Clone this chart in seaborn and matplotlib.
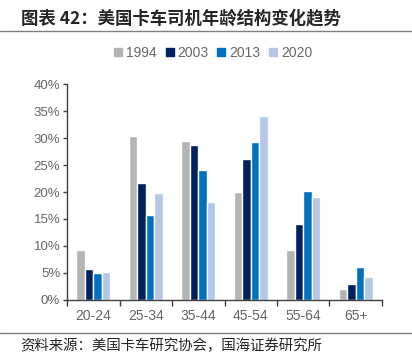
import pandas as pd
import numpy as np
import matplotlib
matplotlib.use("Agg")
import matplotlib.pyplot as plt
import seaborn as sns
from matplotlib.lines import Line2D

# 数据（从图上读取的估计值，单位 %）
age_groups = ['20-24', '25-34', '35-44', '45-54', '55-64', '65+']
years = ['1994', '2003', '2013', '2020']
v1994 = [9.2, 30.5, 29.5, 20.0, 9.2, 2.0]
v2003 = [5.6, 21.7, 28.7, 26.1, 14.1, 2.9]
v2013 = [4.9, 15.7, 24.1, 29.3, 20.1, 6.1]
v2020 = [5.1, 19.9, 18.1, 34.1, 19.0, 4.2]
colors = ['#B4B4B4', '#002060', '#0070C0', '#B4C7E7']

df = pd.DataFrame({
    'age': age_groups * 4,
    'year': [y for y in years for _ in age_groups],
    'share': v1994 + v2003 + v2013 + v2020,
})

sns.set_style("ticks")
plt.rcParams['font.family'] = ['Liberation Sans', 'Noto Sans CJK SC', 'DejaVu Sans']

fig = plt.figure(figsize=(4.12, 3.64), dpi=100)
ax = fig.add_axes([0.163, 0.177, 0.764, 0.591])

sns.barplot(data=df, x='age', y='share', hue='year', palette=colors,
            width=0.65, saturation=1, ax=ax, legend=False)

ax.set_ylim(0, 40)
ax.set_xlim(-0.5, 5.5)
ax.set_yticks(np.arange(0, 41, 5))
ax.set_yticklabels([f'{t}%' for t in range(0, 41, 5)])
ax.set_xlabel('')
ax.set_ylabel('')

# x 轴刻度线在组之间
ax.set_xticks(np.arange(-0.5, 6, 1), minor=True)
ax.tick_params(axis='x', which='major', length=0, pad=7, labelsize=10, labelcolor='#666666')
ax.tick_params(axis='x', which='minor', length=4, width=1, color='#404040', direction='out')
ax.tick_params(axis='y', length=3, width=1, color='#404040', labelsize=9.5, labelcolor='#666666', pad=2)

sns.despine(ax=ax)
for s in ['left', 'bottom']:
    ax.spines[s].set_color('#404040')
    ax.spines[s].set_linewidth(1)

# 图例
handles = [Line2D([], [], marker='s', linestyle='', markersize=5.5,
                  markerfacecolor=c, markeredgecolor=c) for c in colors]
fig.legend(handles, years, loc='center', bbox_to_anchor=(0.518, 0.854), ncol=4,
           frameon=False, handlelength=0.5, handletextpad=0.3, columnspacing=0.7,
           prop={'size': 10}, labelcolor='#666666')

# 标题与来源
fig.text(0.05, 1 - 18 / 364, '图表 42：美国卡车司机年龄结构变化趋势', fontsize=12.5,
         fontweight='bold', va='center', ha='left',
         family=['Noto Sans CJK SC', 'DejaVu Sans'])
fig.add_artist(Line2D([0, 1], [1 - 31 / 364, 1 - 31 / 364], color='#7F7F7F', linewidth=1))
fig.add_artist(Line2D([0, 1], [1 - 333 / 364, 1 - 333 / 364], color='#7F7F7F', linewidth=1))
fig.text(0.05, 1 - 346 / 364, '资料来源：美国卡车研究协会，国海证券研究所', fontsize=10.4,
         va='center', ha='left', family=['Noto Sans CJK SC', 'DejaVu Sans'])

fig.savefig('out.png', dpi=100)
